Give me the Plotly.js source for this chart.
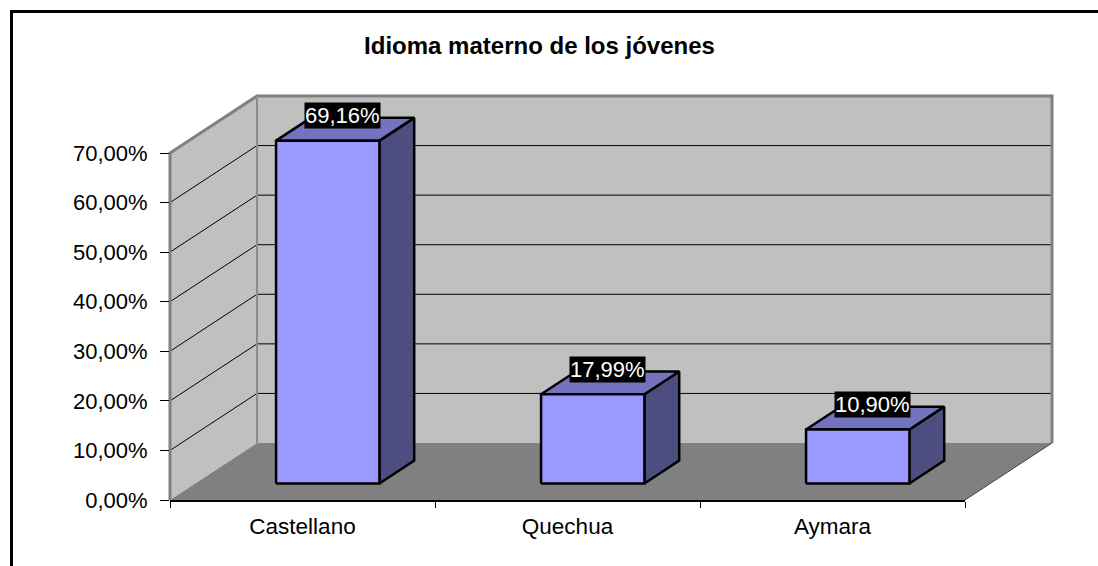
<!DOCTYPE html>
<html>
<head>
<meta charset="utf-8">
<script src="https://cdn.plot.ly/plotly-3.0.1.min.js"></script>
<style>html,body{margin:0;padding:0;background:#fff;}#chart{width:1098px;height:566px;}</style>
</head>
<body>
<div id="chart"></div>
<script>
// ---- data ----
const categories = ['Castellano', 'Quechua', 'Aymara'];
const values = [69.16, 17.99, 10.90];
const yTickVals = [0, 10, 20, 30, 40, 50, 60, 70];
const yTickLabels = ['0,00%', '10,00%', '20,00%', '30,00%', '40,00%', '50,00%', '60,00%', '70,00%'];
const chartTitle = 'Idioma materno de los jóvenes';

// ---- geometry (pixels) ----
const W = 1098, H = 566;
const X0PX = 170, SLOT_PX = 265, Y0PX = 500, PX_PER_PCT = 4.957;
const DXPX = 87, DYPX = 57;
const DX = DXPX / SLOT_PX, DY = DYPX / PX_PER_PCT;
const N = categories.length;
const VMAX = yTickVals[yTickVals.length - 1];
const BAR_HALF = 0.195, D0 = 0.29, D1 = 0.69;
const FONT = 'Liberation Sans, Arial, sans-serif';

function P(x, v, d) { return [x + DX * d, v + DY * d]; }
function poly(pts, fill, lineColor, lineWidth) {
  const xs = pts.map(p => p[0]), ys = pts.map(p => p[1]);
  xs.push(xs[0]); ys.push(ys[0]);
  return {type: 'scatter', mode: lineWidth > 0 ? 'lines' : 'none', x: xs, y: ys,
    fill: 'toself', fillcolor: fill, line: {color: lineColor || fill, width: lineWidth || 0},
    hoverinfo: 'skip', showlegend: false, xaxis: 'x', yaxis: 'y'};
}
function seg(pts, color, width) {
  return {type: 'scatter', mode: 'lines', x: pts.map(p => p[0]), y: pts.map(p => p[1]),
    line: {color: color, width: width}, hoverinfo: 'skip', showlegend: false, xaxis: 'x', yaxis: 'y'};
}

const traces = [];
// walls & floor
traces.push(poly([P(0,0,1), P(N,0,1), P(N,VMAX,1), P(0,VMAX,1)], '#c0c0c0'));
traces.push(poly([P(0,0,0), P(0,0,1), P(0,VMAX,1), P(0,VMAX,0)], '#c0c0c0'));
traces.push(poly([P(0,0,0), P(N,0,0), P(N,0,1), P(0,0,1)], '#808080'));
// gridlines
yTickVals.forEach(v => {
  if (v > 0 && v < VMAX) {
    traces.push(seg([P(0,v,0), P(0,v,1), P(N,v,1)], '#000000', 1));
  }
});
// wall borders
traces.push(seg([P(0,0,0), P(0,VMAX,0), P(0,VMAX,1), P(N,VMAX,1), P(N,0,1)], '#808080', 3));
traces.push(seg([P(0,VMAX,1), P(0,0,1)], '#8c8c8c', 2));
traces.push(seg([P(N,0,0), P(N,0,1)], '#404040', 1));

// bars
const annotations = [];
values.forEach((v, i) => {
  const c = i + 0.5, l = c - BAR_HALF, r = c + BAR_HALF;
  traces.push(poly([P(r,0,D0), P(r,0,D1), P(r,v,D1), P(r,v,D0)], '#4d4d80', '#000000', 2.5));
  traces.push(poly([P(l,v,D0), P(r,v,D0), P(r,v,D1), P(l,v,D1)], '#7373bf', '#000000', 2.5));
  traces.push(poly([P(l,0,D0), P(r,0,D0), P(r,v,D0), P(l,v,D0)], '#9999ff', '#000000', 2.5));
  const lp = P(c, v, 0.46);
  const tp = P(c, v, D1);
  annotations.push({x: lp[0], y: tp[1], xref: 'x', yref: 'y', text: v.toFixed(2).replace('.', ',') + '%',
    showarrow: false, xanchor: 'center', yanchor: 'middle', yshift: 2,
    bgcolor: '#000000', borderpad: 0, font: {family: FONT, size: 22, color: '#ffffff'}});
});

// axis carrier trace (invisible)
traces.push({type: 'scatter', mode: 'markers', x: categories, y: values, xaxis: 'x2', yaxis: 'y2',
  marker: {opacity: 0}, hoverinfo: 'skip', showlegend: false});

const layout = {
  width: W, height: H,
  margin: {l: 0, r: 0, t: 0, b: 0, pad: 0},
  paper_bgcolor: '#ffffff', plot_bgcolor: 'rgba(0,0,0,0)',
  showlegend: false,
  title: {text: chartTitle, x: 539.5 / W, xanchor: 'center', xref: 'paper',
    y: 1 - 45.5 / H, yanchor: 'middle', yref: 'container',
    font: {family: FONT, size: 24, color: '#000000', weight: 'bold'}},
  xaxis: {domain: [0, 1], range: [-X0PX / SLOT_PX, (W - X0PX) / SLOT_PX], visible: false, fixedrange: true},
  yaxis: {domain: [0, 1], range: [-(H - Y0PX) / PX_PER_PCT, Y0PX / PX_PER_PCT], visible: false, fixedrange: true},
  xaxis2: {domain: [X0PX / W, (X0PX + N * SLOT_PX) / W], anchor: 'y2', type: 'category',
    categoryarray: categories, categoryorder: 'array', range: [-0.5, N - 0.5],
    tickson: 'boundaries', ticks: 'outside', ticklen: 6, tickcolor: '#000000', tickwidth: 1,
    ticklabelstandoff: 5,
    showline: true, linecolor: '#000000', linewidth: 2, showgrid: false, zeroline: false,
    tickfont: {family: FONT, size: 22.5, color: '#000000'}, fixedrange: true},
  yaxis2: {domain: [(H - Y0PX) / H, (H - Y0PX + VMAX * PX_PER_PCT) / H], anchor: 'x2',
    range: [0, VMAX], tickmode: 'array', tickvals: yTickVals, ticktext: yTickLabels,
    ticks: 'outside', ticklen: 9, tickcolor: '#000000', tickwidth: 1, ticklabelstandoff: 8,
    showline: false, showgrid: false, zeroline: false,
    tickfont: {family: FONT, size: 22, color: '#000000'}, fixedrange: true},
  annotations: annotations,
  shapes: [
    {type: 'rect', xref: 'paper', yref: 'paper', x0: 11.5 / W, x1: 1.2, y0: -0.2, y1: 1 - 11.5 / H,
     line: {color: '#000000', width: 3}, fillcolor: 'rgba(0,0,0,0)', layer: 'above'}
  ]
};

Plotly.newPlot('chart', traces, layout, {staticPlot: true, displayModeBar: false});
</script>
</body>
</html>
